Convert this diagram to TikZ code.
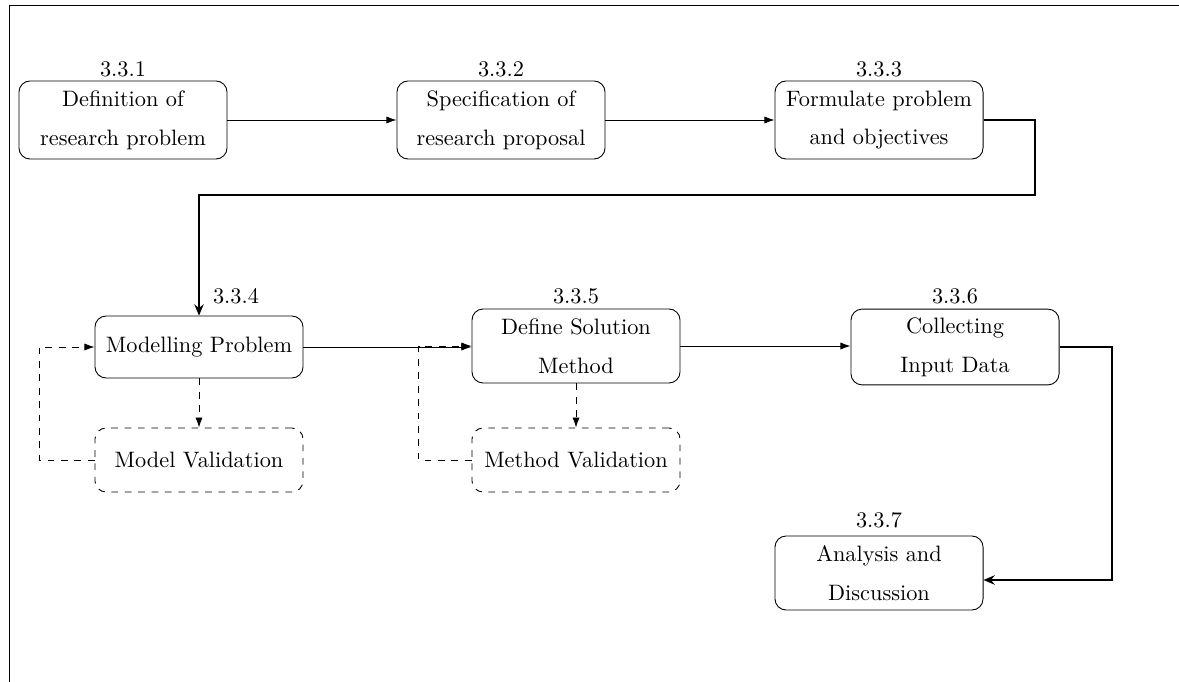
\documentclass[tikz,border=0pt]{standalone}
\usetikzlibrary{arrows.meta}
\tikzset{
  stepbox/.style={draw, rounded corners=5pt, align=center,
    minimum width=93.3pt, inner sep=2pt,
    font=\linespread{1.45}\selectfont},
  checkbox/.style={stepbox, dashed, minimum height=28.7pt},
  numlabel/.style={inner sep=0pt},
  flow/.style={-{Latex[length=4.5pt,width=3.2pt]}},
  mainflow/.style={thick, -{Stealth[length=5pt,width=4.2pt]}},
  feedback/.style={dashed, -{Latex[length=4.5pt,width=3.2pt]}}
}
\begin{document}
\begin{tikzpicture}[x=0.4484pt, y=-0.4484pt]
\useasboundingbox (0,0) rectangle (1179,682);

% outer frame edges
\draw[line width=0.6pt] (9.5,682) -- (9.5,5.5) -- (1179,5.5);

% first row
\node[stepbox, minimum height=35pt] (n1) at (123,120) {Definition of\\research problem};
\node[stepbox, minimum height=35pt] (n2) at (501,120) {Specification of\\research proposal};
\node[stepbox, minimum height=35pt] (n3) at (879,120) {Formulate problem\\and objectives};
\node[numlabel] (l1) at (123,69) {3.3.1};
\node[numlabel] (l2) at (501,69) {3.3.2};
\node[numlabel] (l3) at (879,69) {3.3.3};

% second row
\node[stepbox, minimum height=27.8pt] (n4) at (199,347) {Modelling Problem};
\node[stepbox, minimum height=33.2pt] (n5) at (576,346) {Define Solution\\Method};
\node[stepbox, minimum height=34pt] (n6) at (955,347) {Collecting\\Input Data};
\node[numlabel] (l4) at (236,296) {3.3.4};
\node[numlabel] (l5) at (576,296) {3.3.5};
\node[numlabel] (l6) at (955,296) {3.3.6};

% validation boxes
\node[checkbox] (v4) at (199,460) {Model Validation};
\node[checkbox] (v5) at (576,460) {Method Validation};

% last step
\node[stepbox, minimum height=33.2pt] (n7) at (879,573) {Analysis and\\Discussion};
\node[numlabel] (l7) at (879,520) {3.3.7};

% routing points
\coordinate (c1) at (1035,195);
\coordinate (c2) at (1112,580);

% connectors
\draw[flow] (n1) -- (n2);
\draw[flow] (n2) -- (n3);
\draw[mainflow] (n3.east) -| (c1) -| (n4.north);
\draw[flow] (n4) -- (n5.west |- n4);
\draw[flow] (n5) -- (n6.west |- n5);
\draw[mainflow] (n6.east) -| (c2) -- (n7.east |- c2);

\draw[feedback] (n4) -- (v4);
\draw[feedback] (n5) -- (v5);
\draw[feedback] (v4.west) -- ++(-55,0) |- (n4.west);
\draw[feedback] (v5.west) -- ++(-53,0) |- (n5.west);
\end{tikzpicture}
\end{document}
